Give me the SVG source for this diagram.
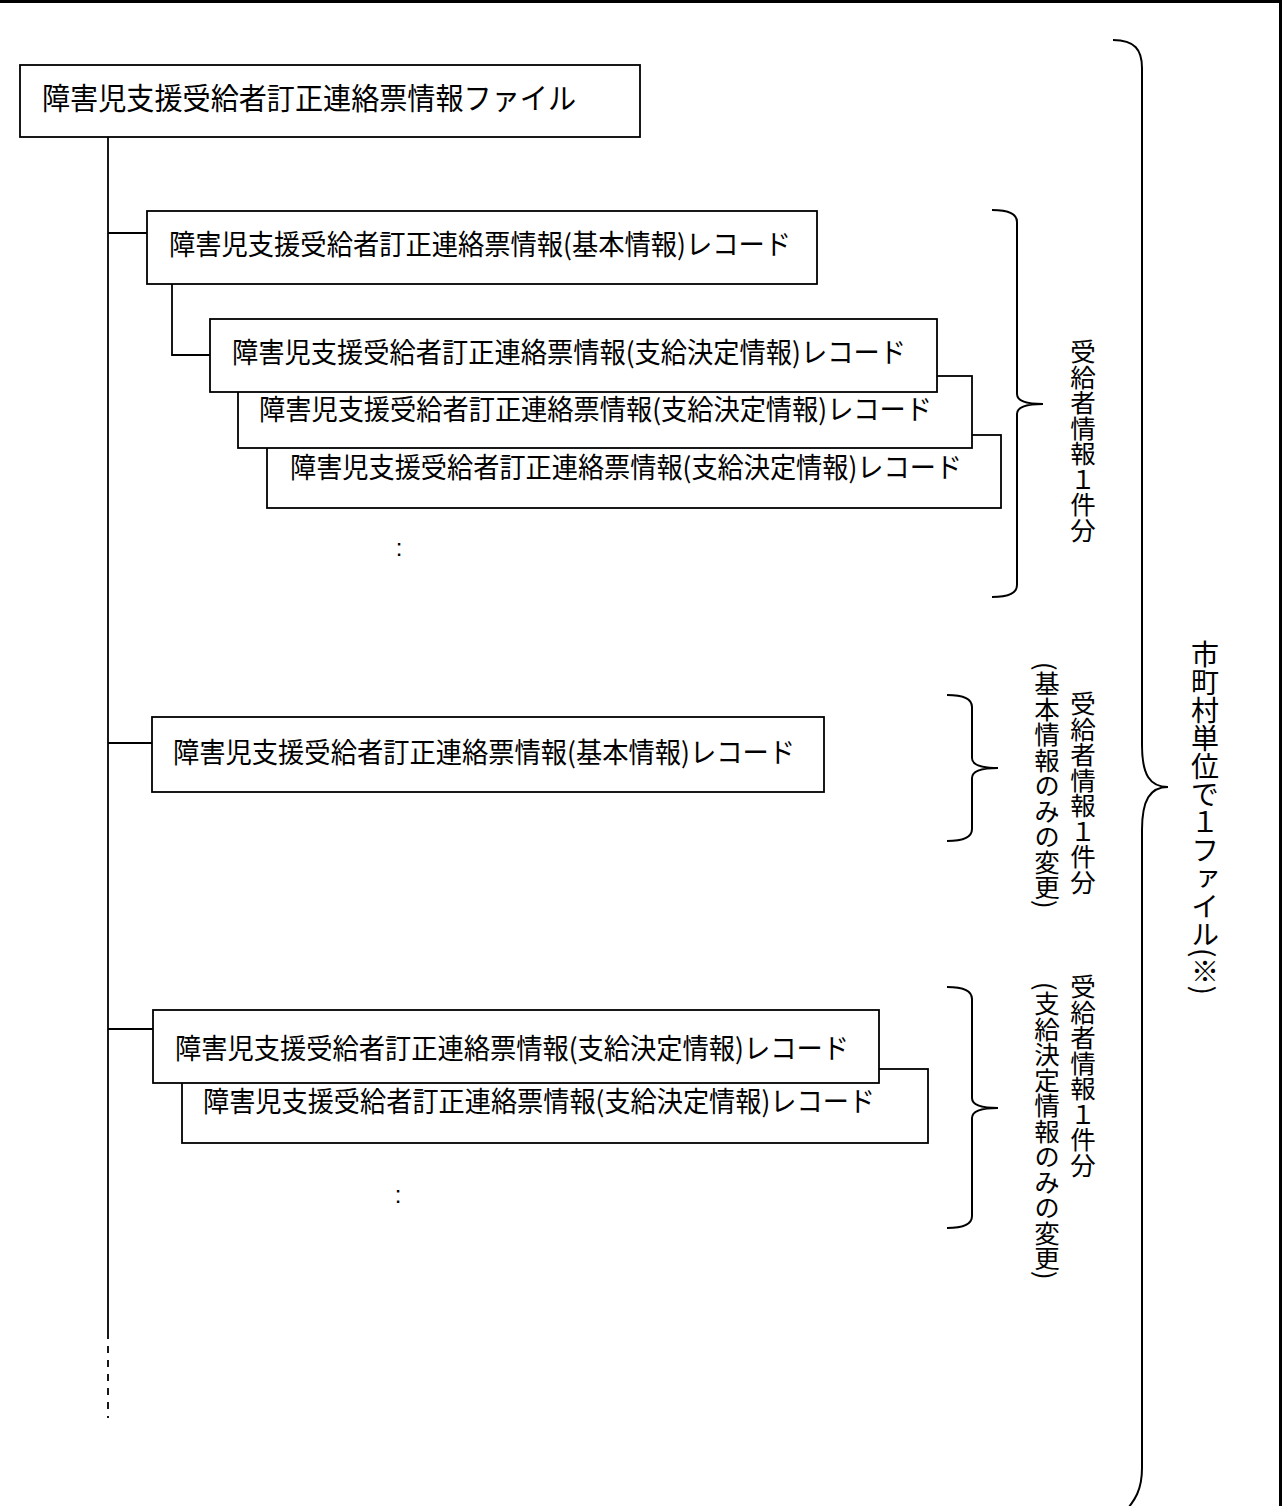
<svg xmlns="http://www.w3.org/2000/svg" width="1282" height="1506" viewBox="0 0 1282 1506">
<style>
  .box{fill:#fff;stroke:#000;stroke-width:1.8}
  .ln{fill:none;stroke:#000;stroke-width:1.8}
  .br{fill:none;stroke:#000;stroke-width:2}
  .t{font-family:"Noto Sans CJK JP","Noto Sans CJK SC",sans-serif;font-size:28px;fill:#000}
  .tt{font-family:"Noto Sans CJK JP","Noto Sans CJK SC",sans-serif;font-size:29.5px;fill:#000}
  .v{font-family:"Noto Sans CJK JP","Noto Sans CJK SC",sans-serif;font-size:25.5px;fill:#000;writing-mode:vertical-rl}
  .vb{font-family:"Noto Sans CJK JP","Noto Sans CJK SC",sans-serif;font-size:28px;fill:#000;writing-mode:vertical-rl}
  .dot{font-family:"Liberation Sans",sans-serif;font-size:24px;fill:#000}
</style>
<rect width="1282" height="1506" fill="#fff"/>
<g id="frame">
  <line x1="0" y1="1.5" x2="1282" y2="1.5" stroke="#000" stroke-width="3"/>
  <line x1="1280.5" y1="0" x2="1280.5" y2="1506" stroke="#000" stroke-width="3"/>
</g>
<g id="connectors">
  <line class="ln" x1="108" y1="137" x2="108" y2="1332"/>
  <line class="ln" x1="108" y1="1332" x2="108" y2="1418" stroke-dasharray="7 7"/>
  <line class="ln" x1="108" y1="233" x2="147" y2="233"/>
  <polyline class="ln" points="172,284 172,355 210,355"/>
  <line class="ln" x1="108" y1="743" x2="152" y2="743"/>
  <line class="ln" x1="108" y1="1029" x2="153" y2="1029"/>
</g>
<g id="node-file">
  <rect class="box" x="20" y="65" width="620" height="72"/>
  <text class="tt" x="42" y="109" textLength="534" lengthAdjust="spacingAndGlyphs">障害児支援受給者訂正連絡票情報ファイル</text>
</g>
<g id="node-basic1">
  <rect class="box" x="147" y="211" width="670" height="73"/>
  <text class="t" x="169" y="255" textLength="622" lengthAdjust="spacingAndGlyphs">障害児支援受給者訂正連絡票情報(基本情報)レコード</text>
</g>
<g id="node-decision1c">
  <rect class="box" x="267" y="435" width="734" height="73"/>
  <text class="t" x="290" y="478" textLength="672" lengthAdjust="spacingAndGlyphs">障害児支援受給者訂正連絡票情報(支給決定情報)レコード</text>
</g>
<g id="node-decision1b">
  <rect class="box" x="238" y="376" width="734" height="72"/>
  <text class="t" x="259" y="420" textLength="673" lengthAdjust="spacingAndGlyphs">障害児支援受給者訂正連絡票情報(支給決定情報)レコード</text>
</g>
<g id="node-decision1a">
  <rect class="box" x="210" y="319" width="727" height="73"/>
  <text class="t" x="232" y="363" textLength="674" lengthAdjust="spacingAndGlyphs">障害児支援受給者訂正連絡票情報(支給決定情報)レコード</text>
</g>
<g id="ellipsis1"><text class="dot" x="399" y="556" text-anchor="middle">:</text></g>
<g id="node-basic2">
  <rect class="box" x="152" y="717" width="672" height="75"/>
  <text class="t" x="173" y="763" textLength="622" lengthAdjust="spacingAndGlyphs">障害児支援受給者訂正連絡票情報(基本情報)レコード</text>
</g>
<g id="node-decision3b">
  <rect class="box" x="182" y="1069" width="746" height="74"/>
  <text class="t" x="203" y="1112" textLength="672" lengthAdjust="spacingAndGlyphs">障害児支援受給者訂正連絡票情報(支給決定情報)レコード</text>
</g>
<g id="node-decision3a">
  <rect class="box" x="153" y="1010" width="726" height="73"/>
  <text class="t" x="175" y="1059" textLength="674" lengthAdjust="spacingAndGlyphs">障害児支援受給者訂正連絡票情報(支給決定情報)レコード</text>
</g>
<g id="ellipsis3"><text class="dot" x="398" y="1203" text-anchor="middle">:</text></g>
<g id="brace1">
  <path class="br" d="M992,210 C1010,210 1017,214 1017,222 L1017,394 C1017,401 1025,404 1043,404 C1025,404 1017,407 1017,414 L1017,585 C1017,593 1010,597 992,597"/>
  <text class="v" x="1083" y="339">受給者情報１件分</text>
</g>
<g id="brace2">
  <path class="br" d="M947,695 C965,695 972,699 972,707 L972,758 C972,765 980,768 998,768 C980,768 972,771 972,778 L972,829 C972,837 965,841 947,841"/>
  <text class="v" x="1083" y="691">受給者情報１件分</text>
  <text class="v" x="1047" y="662">(基本情報のみの変更)</text>
</g>
<g id="brace3">
  <path class="br" d="M947,987 C965,987 972,991 972,999 L972,1098 C972,1105 980,1108 998,1108 C980,1108 972,1111 972,1118 L972,1216 C972,1224 965,1228 947,1228"/>
  <text class="v" x="1083" y="974">受給者情報１件分</text>
  <text class="v" x="1047" y="982">(支給決定情報のみの変更)</text>
</g>
<g id="brace-file">
  <path class="br" d="M1113,40 C1135,40 1142,50 1142,68 L1142,745 C1142,775 1150,787 1168,787 C1150,787 1142,800 1142,830 L1142,1468 C1142,1490 1135,1500 1125,1512"/>
  <text class="vb" x="1205" y="640">市町村単位で１ファイル(※)</text>
</g>
</svg>
